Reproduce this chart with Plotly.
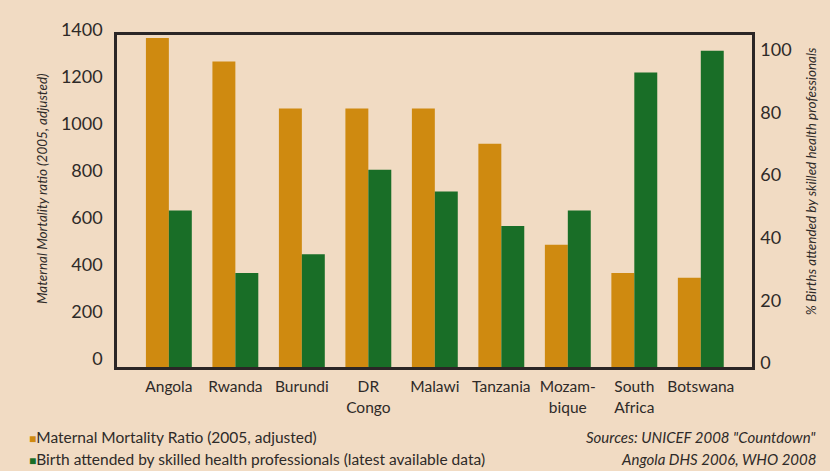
import plotly.graph_objects as go

# Data
countries = ["Angola", "Rwanda", "Burundi", "DR<br>Congo", "Malawi",
             "Tanzania", "Mozam-<br>bique", "South<br>Africa", "Botswana"]
mmr_2005 = [1400, 1300, 1100, 1100, 1100, 950, 520, 400, 380]
skilled_births = [50, 30, 36, 63, 56, 45, 50, 94, 101]

mmr_ticks = [0, 200, 400, 600, 800, 1000, 1200, 1400]
pct_ticks = [0, 20, 40, 60, 80, 100]

BG = "#F1DBC3"
ORANGE = "#CF8A10"
GREEN = "#196E27"
INK = "#2b2626"
FONT = "Lato"

fig = go.Figure()
fig.add_trace(go.Bar(
    x=countries, y=mmr_2005, name="Maternal Mortality Ratio (2005, adjusted)",
    marker=dict(color=ORANGE, line=dict(width=0)),
    width=0.345, offset=-0.345, yaxis="y",
))
fig.add_trace(go.Bar(
    x=countries, y=skilled_births,
    name="Birth attended by skilled health professionals (latest available data)",
    marker=dict(color=GREEN, line=dict(width=0)),
    width=0.345, offset=0, yaxis="y2",
))

axis_line = dict(showline=True, linecolor=INK, linewidth=2.5, showgrid=False,
                 zeroline=False, ticks="")

fig.update_layout(
    width=830, height=471,
    margin=dict(l=117, r=78, t=35, b=104),
    paper_bgcolor=BG, plot_bgcolor=BG,
    font=dict(family=FONT, color="#2e2a28"),
    showlegend=False,
    xaxis=dict(**axis_line, mirror=True, range=[-0.78, 8.77],
               tickfont=dict(size=15.5), ticklabelstandoff=4),
    yaxis=dict(**axis_line, range=[0, 1413], tickvals=mmr_ticks,
               tickfont=dict(size=18), ticklabelstandoff=8, ticklabelshift=-8),
    yaxis2=dict(**axis_line, overlaying="y", side="right", range=[0, 106],
                tickvals=pct_ticks, tickfont=dict(size=18),
                ticklabelstandoff=2, ticklabelshift=-4),
)

title_font = dict(family=FONT, size=13.5, color="#2e2a28")
fig.add_annotation(text="<i>Maternal Mortality ratio (2005, adjusted)</i>",
                   xref="paper", yref="paper", x=-0.118, y=0.536,
                   xanchor="center", yanchor="middle",
                   textangle=-90, showarrow=False, font=title_font)
fig.add_annotation(text="<i>% Births attended by skilled health professionals</i>",
                   xref="paper", yref="paper", x=1.093, y=0.56,
                   xanchor="center", yanchor="middle",
                   textangle=-90, showarrow=False, font=title_font)

# legend drawn as text rows under the plot
legend_rows = [(ORANGE, "Maternal Mortality Ratio (2005, adjusted)", -0.211),
               (GREEN, "Birth attended by skilled health professionals (latest available data)", -0.277)]
for color, label, ypos in legend_rows:
    fig.add_annotation(text=f"<span style='color:{color};font-size:12px'>■</span>{label}",
                       xref="paper", yref="paper", x=-0.1417, y=ypos,
                       xanchor="left", yanchor="middle", showarrow=False,
                       font=dict(family=FONT, size=15.5, color="#2e2a28"))

source_rows = [('Sources: UNICEF 2008 "Countdown"', -0.211),
               ("Angola DHS 2006, WHO 2008", -0.277)]
for label, ypos in source_rows:
    fig.add_annotation(text=f"<i>{label}</i>", xref="paper", yref="paper",
                       x=1.104, y=ypos, xanchor="right", yanchor="middle",
                       showarrow=False,
                       font=dict(family=FONT, size=15, color="#2e2a28"))

# drop the default page margin so the figure sits at the window's corner
page_fix = "document.body.style.margin='0';document.body.style.background='%s';" % BG
fig.write_html("out.html", config={"displayModeBar": False}, post_script=page_fix)
